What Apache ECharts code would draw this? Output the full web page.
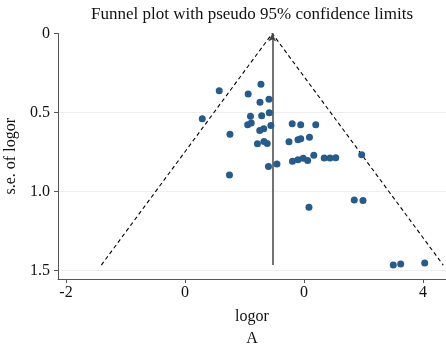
<!DOCTYPE html>
<html>
<head>
<meta charset="utf-8">
<script src="https://cdn.jsdelivr.net/npm/echarts@6/dist/echarts.min.js"></script>
<style>
html,body{margin:0;padding:0;background:#fff;}
#chart{width:446px;height:348px;}
</style>
</head>
<body>
<div id="chart"></div>
<script>
// Study effect sizes (log odds ratio) and their standard errors
const logor = [0.576, 1.277, 1.062, 1.412, 1.261, 0.291, 1.101, 1.289, 1.417, 1.054,
  1.114, 1.444, 1.257, 1.324, 0.756, 1.802, 1.945, 2.198, 1.218, 1.328,
  1.382, 1.748, 1.899, 1.946, 2.092, 2.970, 1.403, 1.546, 1.807, 1.899,
  1.987, 2.062, 2.165, 2.340, 2.437, 2.534, 0.748, 2.845, 2.992, 2.084,
  3.501, 3.625, 4.029];
const seLogor = [0.362, 0.322, 0.383, 0.416, 0.435, 0.540, 0.524, 0.520, 0.502, 0.578,
  0.566, 0.582, 0.614, 0.603, 0.638, 0.571, 0.577, 0.577, 0.698, 0.684,
  0.697, 0.685, 0.672, 0.666, 0.656, 0.767, 0.842, 0.826, 0.808, 0.799,
  0.790, 0.804, 0.771, 0.788, 0.788, 0.787, 0.896, 1.054, 1.057, 1.100,
  1.466, 1.459, 1.453];
const pooledLogor = 1.467;
const zCrit = 1.96;
const xTickValues = [-2, 0, 2, 4];
const xTickLabels = ['-2', '0', '0', '4'];
const yTickValues = [0, 0.5, 1, 1.5];
const yTickLabels = ['0', '0.5', '1.0', '1.5'];
const titleText = 'Funnel plot with pseudo 95% confidence limits';
const xName = 'logor';
const yName = 's.e. of logor';
const panelLabel = 'A';

const seMax = Math.max(...seLogor);
const points = logor.map((v, i) => [v, seLogor[i]]);
const funnel = [
  [pooledLogor - zCrit * seMax, seMax],
  [pooledLogor, 0],
  [pooledLogor + zCrit * seMax, seMax]
];
const FONT = 'Liberation Serif';
function lookup(vals, labels, v) {
  const i = vals.findIndex(t => Math.abs(t - v) < 1e-9);
  return i >= 0 ? labels[i] : '';
}

const chart = echarts.init(document.getElementById('chart'), null, {renderer: 'canvas'});
chart.setOption({
  animation: false,
  backgroundColor: '#fff',
  graphic: [
    {type: 'text', x: 252, y: 15, style: {text: titleText, font: '17px "Liberation Serif"', fill: '#111', textAlign: 'center', textVerticalAlign: 'middle'}},
    {type: 'text', x: 252, y: 339, style: {text: panelLabel, font: '16px "Liberation Serif"', fill: '#111', textAlign: 'center', textVerticalAlign: 'middle'}}
  ],
  grid: {left: 58, right: 0, top: 33.5, bottom: 69, containLabel: false, outerBoundsMode: 'none'},
  xAxis: {
    type: 'value', min: -2.134, max: 4.387,
    name: xName, nameLocation: 'middle', nameGap: 30,
    nameTextStyle: {fontFamily: FONT, fontSize: 16, color: '#111'},
    axisLine: {show: true, onZero: false, lineStyle: {color: '#555', width: 1}},
    axisTick: {show: true, length: 4, customValues: xTickValues, lineStyle: {color: '#555'}},
    axisLabel: {customValues: xTickValues, margin: 6, fontFamily: FONT, fontSize: 16, color: '#111',
      formatter: v => lookup(xTickValues, xTickLabels, v)},
    splitLine: {show: false}
  },
  yAxis: {
    type: 'value', inverse: true, min: 0, max: 1.554,
    name: yName, nameLocation: 'middle', nameGap: 28, nameRotate: 90,
    nameTextStyle: {fontFamily: FONT, fontSize: 16, color: '#111'},
    axisLine: {show: true, onZero: false, lineStyle: {color: '#555', width: 1}},
    axisTick: {show: true, length: 4, customValues: yTickValues, lineStyle: {color: '#555'}},
    axisLabel: {customValues: yTickValues, margin: 8, fontFamily: FONT, fontSize: 16, color: '#111',
      formatter: v => lookup(yTickValues, yTickLabels, v)},
    splitLine: {show: false}
  },
  series: [
    {
      type: 'line', data: funnel, symbol: 'none', silent: true, z: 2,
      lineStyle: {color: '#000', width: 1.1, type: [4, 3]},
      markLine: {
        silent: true, symbol: ['none', 'arrow'], symbolSize: [6, 8], label: {show: false},
        lineStyle: {color: '#444', width: 1.5, type: 'solid'},
        data: [[{coord: [pooledLogor, seMax]}, {coord: [pooledLogor, 0]}]]
      }
    },
    {
      type: 'scatter', data: points, symbol: 'circle', symbolSize: 7, z: 5,
      itemStyle: {color: '#285a8a', opacity: 1},
      markLine: {
        silent: true, symbol: 'none', label: {show: false}, z: 0,
        lineStyle: {color: '#eeeeee', width: 1, type: 'solid'},
        data: [{yAxis: 0.5}, {yAxis: 1}, {yAxis: 1.5}]
      }
    }
  ]
});
</script>
</body>
</html>
